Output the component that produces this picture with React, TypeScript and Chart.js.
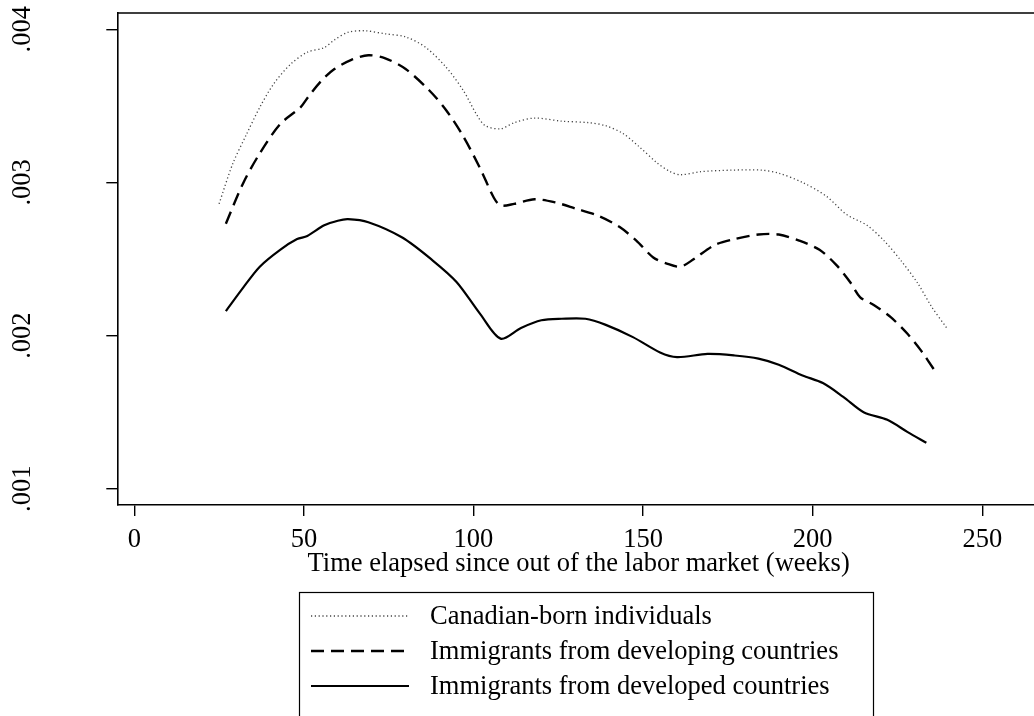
import React, { useEffect, useRef } from "react";
import { Chart, registerables } from "chart.js";

Chart.register(...registerables);

const SERIES_LABELS = [
  "Canadian-born individuals",
  "Immigrants from developing countries",
  "Immigrants from developed countries",
];

const canadianX = [25, 29, 33, 37, 41, 46, 51, 56, 59, 63, 68, 74, 80, 86, 92, 97, 101, 103.5, 108, 112, 118, 126, 134, 139, 144, 149, 154, 158, 161, 167, 176, 185, 190, 197, 204, 210, 216, 221, 226, 231, 235, 239.5];
const canadianY = [0.00286, 0.00312, 0.00331, 0.00349, 0.00364, 0.00377, 0.00385, 0.00388, 0.00393, 0.00398, 0.00399, 0.00397, 0.00395, 0.00388, 0.00375, 0.0036, 0.00344, 0.00337, 0.00335, 0.00339, 0.00342, 0.0034, 0.00339, 0.00337, 0.00332, 0.00323, 0.00313, 0.00307, 0.00305, 0.00307, 0.00308, 0.00308, 0.00306, 0.003, 0.00291, 0.00279, 0.00272, 0.00262, 0.00249, 0.00234, 0.00219, 0.00205];

const developingX = [27, 32, 37, 43, 49, 51, 55, 59, 64, 69, 74, 80, 87, 92, 97, 102, 106, 108, 112, 118, 124, 130, 137, 143, 148, 153, 157, 161, 165, 171, 177, 184, 190, 196, 202, 207, 211, 214, 218, 223, 228, 232, 236];
const developingY = [0.00273, 0.00299, 0.00319, 0.00338, 0.00349, 0.00355, 0.00366, 0.00374, 0.0038, 0.00383, 0.00381, 0.00374, 0.0036, 0.00347, 0.0033, 0.00309, 0.0029, 0.00285, 0.00286, 0.00289, 0.00287, 0.00283, 0.00278, 0.00271, 0.00262, 0.00251, 0.00247, 0.00245, 0.0025, 0.00259, 0.00263, 0.00266, 0.00266, 0.00262, 0.00256, 0.00246, 0.00235, 0.00225, 0.0022, 0.00212, 0.00201, 0.0019, 0.00177];

const developedX = [27, 32, 37, 43, 48, 51, 56, 60, 63, 69, 79, 88, 95, 102, 108, 114, 120, 126, 133, 139, 147, 155, 160, 169, 177, 184, 190, 197, 203, 209, 215, 222, 228, 233.5];
const developedY = [0.00216, 0.00231, 0.00245, 0.00256, 0.00263, 0.00265, 0.00272, 0.00275, 0.00276, 0.00274, 0.00264, 0.00249, 0.00235, 0.00214, 0.00198, 0.00205, 0.0021, 0.00211, 0.00211, 0.00207, 0.00199, 0.00189, 0.00186, 0.00188, 0.00187, 0.00185, 0.00181, 0.00174, 0.00169, 0.0016, 0.0015, 0.00145, 0.00137, 0.0013];

const X_TICKS = [0, 50, 100, 150, 200, 250];
const X_TICK_LABELS = ["0", "50", "100", "150", "200", "250"];
const Y_TICKS = [0.001, 0.002, 0.003, 0.004];
const Y_TICK_LABELS = [".001", ".002", ".003", ".004"];
const X_TITLE = "Time elapsed since out of the labor market (weeks)";

const FONT = '"Liberation Serif", "Times New Roman", serif';
const FONT_SIZE = 26.5;

const zip = (xs: number[], ys: number[]) => xs.map((x, i) => ({ x, y: ys[i] }));

const framePlugin = {
  id: "frameTop",
  afterDraw(chart: any) {
    const { ctx, chartArea } = chart;
    ctx.save();
    ctx.strokeStyle = "#000";
    ctx.lineWidth = 1.6;
    ctx.beginPath();
    ctx.moveTo(chartArea.left, chartArea.top);
    ctx.lineTo(chartArea.right, chartArea.top);
    ctx.lineTo(chartArea.right, chartArea.bottom);
    ctx.stroke();
    ctx.restore();
  },
};

const legendPlugin = {
  id: "boxLegend",
  afterDraw(chart: any) {
    const ctx = chart.ctx;
    ctx.save();
    ctx.strokeStyle = "#000";
    ctx.lineWidth = 1.2;
    ctx.strokeRect(299.5, 592.5, 574, 200);
    chart.data.datasets.forEach((ds: any, i: number) => {
      const y = 616 + i * 35;
      ctx.setLineDash(ds.borderDash || []);
      ctx.strokeStyle = ds.borderColor;
      ctx.lineWidth = ds.borderWidth;
      ctx.beginPath();
      ctx.moveTo(311, y);
      ctx.lineTo(409, y);
      ctx.stroke();
      ctx.setLineDash([]);
      ctx.fillStyle = "#000";
      ctx.font = `${FONT_SIZE}px ${FONT}`;
      ctx.textBaseline = "middle";
      ctx.textAlign = "left";
      ctx.fillText(ds.label, 430, y + 1);
    });
    ctx.restore();
  },
};

export default function App() {
  const ref = useRef<HTMLCanvasElement | null>(null);

  useEffect(() => {
    if (!ref.current) return;
    const chart = new Chart(ref.current, {
      type: "line",
      data: {
        datasets: [
          {
            label: SERIES_LABELS[0],
            data: zip(canadianX, canadianY),
            borderColor: "#444",
            borderWidth: 1.3,
            borderDash: [1.2, 2.6],
            pointRadius: 0,
            tension: 0.3,
            fill: false,
          },
          {
            label: SERIES_LABELS[1],
            data: zip(developingX, developingY),
            borderColor: "#000",
            borderWidth: 2.4,
            borderDash: [13, 7],
            pointRadius: 0,
            tension: 0.3,
            fill: false,
          },
          {
            label: SERIES_LABELS[2],
            data: zip(developedX, developedY),
            borderColor: "#000",
            borderWidth: 2.2,
            pointRadius: 0,
            tension: 0.3,
            fill: false,
          },
        ],
      },
      options: {
        animation: false,
        responsive: false,
        maintainAspectRatio: false,
        devicePixelRatio: 1,
        layout: { padding: { left: 0, right: 10, top: 13, bottom: 131 } },
        plugins: { legend: { display: false }, tooltip: { enabled: false } },
        scales: {
          x: {
            type: "linear",
            min: -5,
            max: 267,
            afterBuildTicks: (s: any) => {
              s.ticks = X_TICKS.map((v) => ({ value: v }));
            },
            afterFit: (s: any) => {
              s.height = 80;
              s.paddingLeft = 0;
              s.paddingRight = 0;
            },
            grid: { drawOnChartArea: false, drawTicks: true, tickLength: 11, color: "#000", lineWidth: 1.4 },
            border: { display: true, color: "#000", width: 1.6 },
            ticks: {
              padding: 8,
              color: "#000",
              font: { family: FONT, size: FONT_SIZE },
              maxRotation: 0,
              callback: (_v: any, i: number) => X_TICK_LABELS[i],
            },
            title: {
              display: true,
              text: X_TITLE,
              color: "#000",
              font: { family: FONT, size: FONT_SIZE },
              padding: { top: 0, bottom: 5 },
            },
          },
          y: {
            type: "linear",
            min: 0.000894,
            max: 0.004106,
            afterBuildTicks: (s: any) => {
              s.ticks = Y_TICKS.map((v) => ({ value: v }));
            },
            afterFit: (s: any) => {
              s.width = 117.3;
              s.paddingTop = 0;
              s.paddingBottom = 0;
            },
            grid: { drawOnChartArea: false, drawTicks: true, tickLength: 11, color: "#000", lineWidth: 1.4 },
            border: { display: true, color: "#000", width: 1.6 },
            ticks: {
              padding: 60,
              color: "#000",
              minRotation: 90,
              maxRotation: 90,
              crossAlign: "center",
              font: { family: FONT, size: FONT_SIZE },
              callback: (_v: any, i: number) => Y_TICK_LABELS[i],
            },
          },
        },
      },
      plugins: [framePlugin, legendPlugin],
    } as any);
    return () => chart.destroy();
  }, []);

  return (
    <div style={{ position: "fixed", left: 0, top: 0, width: 1034, height: 716, overflow: "hidden", background: "#fff" }}>
      <canvas ref={ref} width={1050} height={716} style={{ display: "block", width: 1050, height: 716 }} />
    </div>
  );
}
